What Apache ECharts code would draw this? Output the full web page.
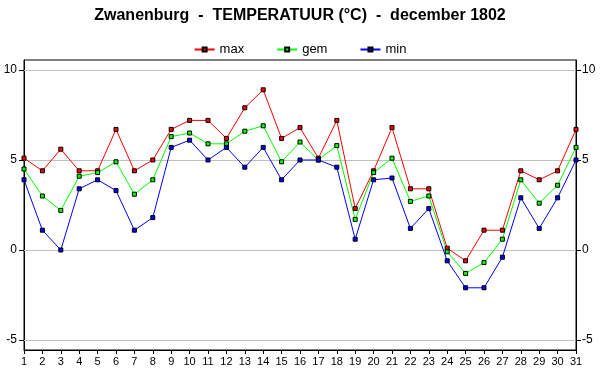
<!DOCTYPE html>
<html><head><meta charset="utf-8">
<script src="https://cdn.jsdelivr.net/npm/echarts@6/dist/echarts.min.js"></script>
<style>html,body{margin:0;padding:0;background:#fff}#c{width:600px;height:390px}</style>
</head><body><div id="c"></div>
<script>
var days = [];
for (var i = 1; i <= 31; i++) days.push(String(i));
var maxT = [5.1,4.4,5.6,4.4,4.4,6.7,4.4,5.0,6.7,7.2,7.2,6.2,7.9,8.9,6.2,6.8,5.1,7.2,2.3,4.4,6.8,3.4,3.4,0.1,-0.6,1.1,1.1,4.4,3.9,4.4,6.7];
var gemT = [4.5,3.0,2.2,4.1,4.3,4.9,3.1,3.9,6.3,6.5,5.9,5.9,6.6,6.9,4.9,6.0,5.0,5.8,1.7,4.3,5.1,2.7,3.0,-0.1,-1.3,-0.7,0.6,3.9,2.6,3.6,5.7];
var minT = [3.9,1.1,0.0,3.4,3.9,3.3,1.1,1.8,5.7,6.1,5.0,5.7,4.6,5.7,3.9,5.0,5.0,4.6,0.6,3.9,4.0,1.2,2.3,-0.6,-2.1,-2.1,-0.4,2.9,1.2,2.9,5.0];
var yTicks = [-5, 0, 5, 10];

var font = 'Liberation Sans, Arial, sans-serif';
function mkY(pos){
  return {
    type:'value', position:pos, min:-5.556, max:10.556,
    axisLine:{show:true, lineStyle:{color:'#000', width:1}},
    axisTick:{show:true, length:5, customValues:yTicks, lineStyle:{color:'#000'}},
    axisLabel:{color:'#000', fontFamily:font, fontSize:12, margin:(pos==='left'?7:6), customValues:yTicks},
    splitLine:{show:false}
  };
}
function mkS(name, data, color){
  return {
    name:name, type:'line', data:data, yAxisIndex:0, z:3,
    symbol:'rect', symbolSize:4, showAllSymbol:true,
    lineStyle:{color:color, width:1},
    itemStyle:{color:color, borderColor:'#000', borderWidth:1},
    emphasis:{disabled:true}, animation:false
  };
}
var chart = echarts.init(document.getElementById('c'), null, {renderer:'canvas'});
chart.setOption({
  animation:false,
  backgroundColor:'#fff',
  title:{text:'Zwanenburg  -  TEMPERATUUR (°C)  -  december 1802', left:'center', top:3,
    textStyle:{fontFamily:font, fontSize:16, fontWeight:'bold', color:'#000'}},
  legend:{top:38, left:'center', itemWidth:20, itemHeight:5, itemGap:32,
    textStyle:{fontFamily:font, fontSize:13, color:'#000'},
    data:['max','gem','min']},
  grid:{left:24, right:24, top:60, bottom:40, show:true, borderColor:'#000', borderWidth:1},
  xAxis:{type:'category', data:days, boundaryGap:false,
    axisLine:{onZero:false, lineStyle:{color:'#000'}},
    axisTick:{show:true, length:4, alignWithLabel:true, lineStyle:{color:'#000'}},
    axisLabel:{color:'#000', fontFamily:font, fontSize:11, interval:0, margin:6}},
  yAxis:[mkY('left'), mkY('right')],
  series:[
    {name:'grid', type:'line', data:[], z:1, silent:true,
     markLine:{silent:true, symbol:['none','none'], label:{show:false}, animation:false, z:1,
       lineStyle:{color:'#c0c0c0', width:1, type:'solid'},
       data: yTicks.map(function(v){ return {yAxis:v}; })}},
    mkS('max', maxT, '#ff0000'), mkS('gem', gemT, '#00ff00'), mkS('min', minT, '#0000ff')]
});
</script></body></html>
